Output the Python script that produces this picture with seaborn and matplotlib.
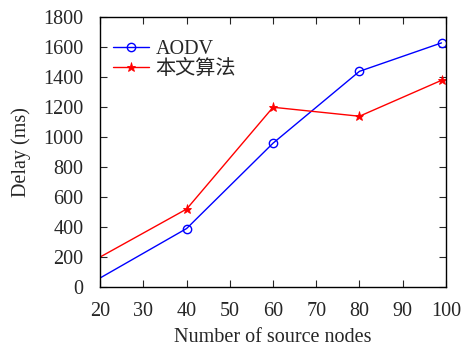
import pandas as pd
import seaborn as sns
import matplotlib.pyplot as plt
from matplotlib.lines import Line2D

nodes = [20, 40, 60, 80, 99]
aodv = [60, 390, 960, 1440, 1630]
proposed = [200, 520, 1200, 1140, 1380]
series = ["AODV", "本文算法"]
colors = {"AODV": "#0000ff", "本文算法": "#ff0000"}

df = pd.DataFrame({
    "nodes": nodes * 2,
    "delay": aodv + proposed,
    "method": [series[0]] * len(nodes) + [series[1]] * len(nodes),
})

sns.set_style("ticks")
plt.rcParams['font.family'] = ['Liberation Serif', 'Noto Sans CJK SC']
plt.rcParams['font.size'] = 14.5

fig, ax = plt.subplots(figsize=(4.62, 3.49), dpi=100)
sns.lineplot(data=df, x="nodes", y="delay", hue="method", style="method",
             palette=colors, markers={"AODV": "o", "本文算法": "*"},
             dashes=False, linewidth=1, legend=False, ax=ax)
styles = {"AODV": dict(markerfacecolor="none", markersize=6, markeredgewidth=1),
          "本文算法": dict(markerfacecolor="#ff0000", markersize=6.5, markeredgewidth=0.6)}
handles = []
for line, name in zip(ax.lines, series):
    c = colors[name]
    line.set_markeredgecolor(c)
    line.set_markevery(list(range(1, len(nodes))))  # no marker at the first point
    line.set_markerfacecolor(styles[name]["markerfacecolor"])
    line.set_markersize(styles[name]["markersize"])
    line.set_markeredgewidth(styles[name]["markeredgewidth"])
    handles.append(Line2D([], [], color=c, linewidth=1, marker=line.get_marker(),
                          markeredgecolor=c, **styles[name]))

ax.set_xlim(20, 100)
ax.set_ylim(0, 1800)
ax.set_xticks(range(20, 101, 10))
ax.set_yticks(range(0, 1801, 200))
ax.tick_params(direction="in", top=True, right=True, length=5, labelsize=14.5)
ax.tick_params(axis="x", pad=11)
ax.tick_params(axis="y", pad=12)
for s in ax.spines.values():
    s.set_linewidth(1)
    s.set_color("black")
ax.set_xlabel("Number of source nodes", fontsize=14.5, labelpad=5)
ax.set_ylabel("Delay (ms)", fontsize=14.5, labelpad=9)
ax.legend(handles, series, loc="upper left", bbox_to_anchor=(-0.026, 1.0),
          frameon=False, fontsize=14.5, handlelength=1.75, handletextpad=0.35,
          borderaxespad=0.7, labelspacing=0.05)
fig.subplots_adjust(left=0.217, right=0.965, top=0.95, bottom=0.178)
fig.savefig("out.png", dpi=100)
